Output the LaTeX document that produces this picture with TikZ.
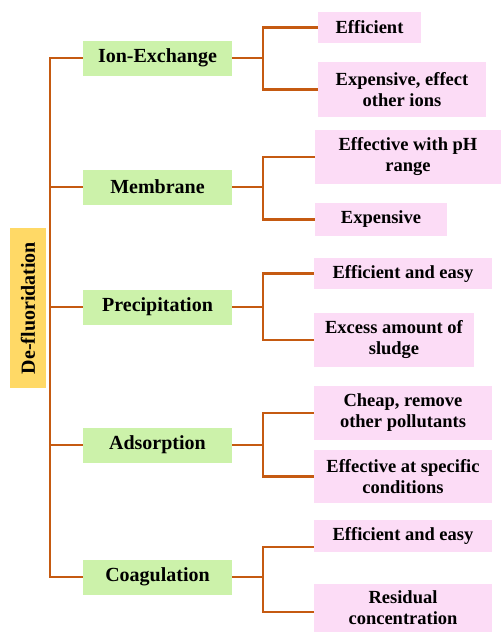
\documentclass[tikz,border=0pt]{standalone}
\usepackage{fontspec}
\setmainfont{Liberation Serif}
\definecolor{branchcol}{HTML}{C55A11}
\definecolor{rootfill}{HTML}{FFD966}
\definecolor{methodfill}{HTML}{CCF2AA}
\definecolor{notefill}{HTML}{FCDCF6}
\tikzset{
  rootbox/.style={fill=rootfill,rotate=90,inner sep=0pt,minimum width=160pt,minimum height=36pt,font=\fontsize{20}{24}\selectfont\bfseries},
  methodbox/.style={fill=methodfill,inner sep=0pt,minimum width=149pt,minimum height=35pt,font=\fontsize{20}{24}\selectfont\bfseries},
  notebox/.style={fill=notefill,inner sep=0pt,align=center,font=\fontsize{18.5}{21}\selectfont\bfseries},
  branch/.style={draw=branchcol,line width=2.5pt}
}
\begin{document}
\begin{tikzpicture}[x=1pt,y=-1pt]
\useasboundingbox (0,0) rectangle (501,632);

%=================================================
% ROOT AND METHODS
%=================================================

\node[rootbox] (root) at (28,308) {De-fluoridation};

\node[methodbox] (ion) at (157.5,58) {Ion-Exchange};
\node[methodbox] (mem) at (157.5,187) {Membrane};
\node[methodbox] (pre) at (157.5,307) {Precipitation};
\node[methodbox] (ads) at (157.5,445) {Adsorption};
\node[methodbox] (coa) at (157.5,577) {Coagulation};

% trunk
\foreach \m in {ion,mem,pre,ads,coa}
{
\draw[branch]
(root.south) ++(4,0) |- (\m.west);
}

%=================================================
% NOTES
%=================================================

% Ion-Exchange
\node[notebox,minimum width=103pt,minimum height=31pt] (ion1) at (369.5,27.5) {Efficient};
\node[notebox,minimum width=168pt,minimum height=55pt] (ion2) at (402,89.5) {Expensive, effect\\other ions};

% Membrane
\node[notebox,minimum width=186pt,minimum height=54pt] (mem1) at (408,157) {Effective with pH\\range};
\node[notebox,minimum width=132pt,minimum height=33pt] (mem2) at (381,219.5) {Expensive};

% Precipitation
\node[notebox,minimum width=178pt,minimum height=31pt] (pre1) at (403,273.5) {Efficient and easy};
\node[notebox,minimum width=160pt,minimum height=54pt] (pre2) at (394,340) {Excess amount of\\sludge};

% Adsorption
\node[notebox,minimum width=178pt,minimum height=54pt] (ads1) at (403,413) {Cheap, remove\\other pollutants};
\node[notebox,minimum width=178pt,minimum height=53pt] (ads2) at (403,476.5) {Effective at specific\\conditions};

% Coagulation
\node[notebox,minimum width=178pt,minimum height=32pt] (coa1) at (403,536) {Efficient and easy};
\node[notebox,minimum width=178pt,minimum height=48pt] (coa2) at (403,608) {Residual\\concentration};

% branches
\foreach \m in {ion,mem,pre,ads}
{
\draw[branch]
(\m.east) -- ++(31,0) |- (\m1.west);
\draw[branch]
(\m.east) ++(31,0) |- (\m2.west);
}

% coagulation branch sits low
\draw[branch]
(coa.east) -- ++(31,0) |- ([yshift=-11pt]coa1.west);
\draw[branch]
(coa.east) ++(31,0) |- ([yshift=-4pt]coa2.west);

\end{tikzpicture}
\end{document}
